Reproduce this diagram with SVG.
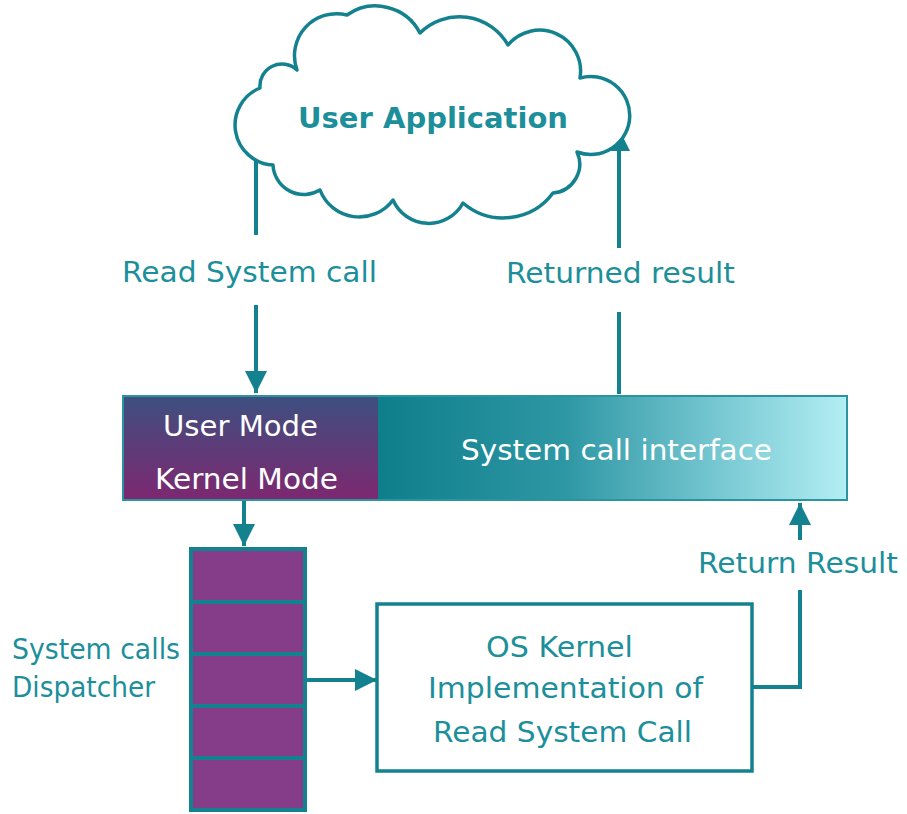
<svg xmlns="http://www.w3.org/2000/svg" width="907" height="814" viewBox="0 0 907 814">
<style>
.t{font-family:"DejaVu Sans","Liberation Sans",sans-serif;fill:#1c8f9b;font-size:28px}
.w{font-family:"DejaVu Sans","Liberation Sans",sans-serif;fill:#ffffff;font-size:28px}
.ln{stroke:#13828e;stroke-width:4;fill:none}
</style>
<defs>
<linearGradient id="gp" x1="0" y1="0" x2="0" y2="1">
<stop offset="0" stop-color="#3e4f80"/>
<stop offset="1" stop-color="#7d2870"/>
</linearGradient>
<linearGradient id="gt" x1="0" y1="0" x2="1" y2="0">
<stop offset="0" stop-color="#0f7e8b"/>
<stop offset="0.4" stop-color="#2e97a4"/>
<stop offset="0.75" stop-color="#7ccbd5"/>
<stop offset="1" stop-color="#b2eef3"/>
</linearGradient>
<marker id="a2" viewBox="0 0 20 20" refX="20" refY="10" markerWidth="23" markerHeight="22" markerUnits="userSpaceOnUse" orient="auto">
<path d="M0,0 L20,10 L0,20 z" fill="#13828e"/>
</marker>
</defs>
<rect width="907" height="814" fill="#ffffff"/>

<g id="connectors">
<path class="ln" d="M256,160 V235"/>
<path class="ln" d="M256,305 V393" marker-end="url(#a2)"/>
<path class="ln" d="M619,394 V312"/>
<path class="ln" d="M619,248 V129" marker-end="url(#a2)"/>
<path class="ln" d="M244,500 V546" marker-end="url(#a2)"/>
<path class="ln" d="M306,680 H377" marker-end="url(#a2)"/>
<path class="ln" d="M752,687 H800 V590"/>
<path class="ln" d="M800,540 V503" marker-end="url(#a2)"/>
<text class="t" x="122" y="282" textLength="255" lengthAdjust="spacingAndGlyphs">Read System call</text>
<text class="t" x="506" y="283" textLength="229" lengthAdjust="spacingAndGlyphs">Returned result</text>
<text class="t" x="698" y="573" textLength="200" lengthAdjust="spacingAndGlyphs">Return Result</text>
</g>

<g id="cloud">
<path d="M273,165 A40,40 0 0 1 260,88 A22,22 0 0 1 297,70 A42,42 0 0 1 347,15 A50,50 0 0 1 420,33 A56,56 0 0 1 508,45 A41,41 0 0 1 580,78 A39,39 0 1 1 577,152 A29,29 0 0 1 553,193 A62,62 0 0 1 463,203 A39,39 0 0 1 393,200 A42,42 0 0 1 320,190 A31,31 0 0 1 273,165 Z" fill="#ffffff" stroke="#13828e" stroke-width="3.5" stroke-linejoin="round"/>
<text x="298" y="128" textLength="270" lengthAdjust="spacingAndGlyphs" style="font-family:'DejaVu Sans','Liberation Sans',sans-serif;font-weight:bold;font-size:28px;fill:#1c8f9b">User Application</text>
</g>

<g id="bar">
<rect x="123" y="396" width="724" height="104" fill="#ffffff" stroke="#2a95a0" stroke-width="2"/>
<rect x="378" y="397" width="468" height="102" fill="url(#gt)"/>
<rect x="124" y="397" width="254" height="102" fill="url(#gp)"/>
<text class="w" x="163" y="436" textLength="155" lengthAdjust="spacingAndGlyphs">User Mode</text>
<text class="w" x="155" y="489" textLength="183" lengthAdjust="spacingAndGlyphs">Kernel Mode</text>
<text class="w" x="461" y="460" textLength="311" lengthAdjust="spacingAndGlyphs">System call interface</text>
</g>

<g id="dispatcher">
<rect x="191" y="549" width="114" height="261" fill="#853d8a" stroke="#13828e" stroke-width="4"/>
<path d="M191,602 H305 M191,654 H305 M191,706 H305 M191,758 H305" stroke="#13828e" stroke-width="4"/>
<text class="t" x="12" y="659" textLength="168" lengthAdjust="spacingAndGlyphs">System calls</text>
<text class="t" x="12" y="697" textLength="143" lengthAdjust="spacingAndGlyphs">Dispatcher</text>
</g>

<g id="kernel">
<rect x="377" y="604" width="375" height="167" fill="#ffffff" stroke="#13828e" stroke-width="3.5"/>
<text class="t" x="486" y="657" textLength="147" lengthAdjust="spacingAndGlyphs">OS Kernel</text>
<text class="t" x="428" y="698" textLength="275" lengthAdjust="spacingAndGlyphs">Implementation of</text>
<text class="t" x="433" y="742" textLength="259" lengthAdjust="spacingAndGlyphs">Read System Call</text>
</g>
</svg>
